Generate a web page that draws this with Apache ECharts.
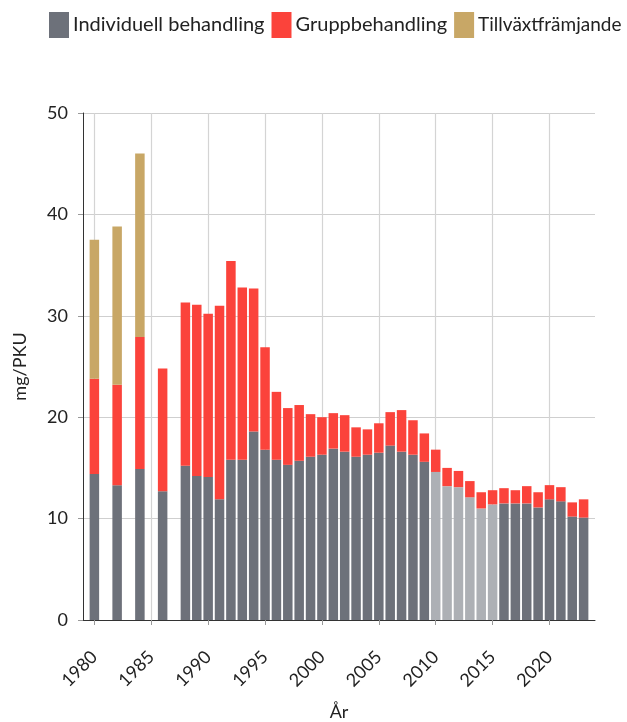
<!DOCTYPE html>
<html>
<head>
<meta charset="utf-8">
<script src="https://cdn.jsdelivr.net/npm/echarts@6/dist/echarts.min.js"></script>
<style>
  html, body { margin: 0; padding: 0; background: #fff; }
  #chart { width: 627px; height: 722px; }
</style>
</head>
<body>
<div id="chart"></div>
<script>
// Förbrukning av tillväxthormon per år (mg/PKU), uppdelad på behandlingstyp

// Årsaxeln (ett steg per år, även år utan mätning)
const axisYears = ['1979', '1980', '1981', '1982', '1983', '1984', '1985', '1986', '1987',
  '1988', '1989', '1990', '1991', '1992', '1993', '1994', '1995', '1996', '1997', '1998',
  '1999', '2000', '2001', '2002', '2003', '2004', '2005', '2006', '2007', '2008', '2009',
  '2010', '2011', '2012', '2013', '2014', '2015', '2016', '2017', '2018', '2019', '2020',
  '2021', '2022', '2023', '2024'];

// År med mätvärden
const years = [1980, 1982, 1984, 1986,
  1988, 1989, 1990, 1991, 1992, 1993, 1994, 1995, 1996, 1997, 1998, 1999,
  2000, 2001, 2002, 2003, 2004, 2005, 2006, 2007, 2008, 2009,
  2010, 2011, 2012, 2013, 2014, 2015, 2016, 2017, 2018, 2019,
  2020, 2021, 2022, 2023];

const individuell = [14.4, 13.3, 14.9, 12.7,
  15.2, 14.2, 14.1, 11.9, 15.8, 15.8, 18.6, 16.8, 15.8, 15.3, 15.7, 16.1,
  16.3, 16.9, 16.6, 16.1, 16.3, 16.5, 17.2, 16.6, 16.3, 15.6,
  14.6, 13.2, 13.1, 12.1, 11.0, 11.4, 11.5, 11.5, 11.5, 11.1,
  11.9, 11.7, 10.2, 10.1];

const grupp = [9.4, 9.9, 13.0, 12.1,
  16.1, 16.9, 16.1, 19.1, 19.6, 17.0, 14.1, 10.1, 6.7, 5.6, 5.5, 4.2,
  3.7, 3.5, 3.6, 2.9, 2.5, 2.9, 3.3, 4.1, 3.4, 2.8,
  2.2, 1.8, 1.6, 1.6, 1.6, 1.4, 1.5, 1.3, 1.7, 1.5,
  1.4, 1.4, 1.4, 1.8];

const tillvaxtYears = [1980, 1982, 1984];
const tillvaxt = [13.7, 15.6, 18.1];

// År som visas med ljusare grå stapel
const ljusaAr = [2010, 2011, 2012, 2013, 2014, 2015];

const seriesNames = ['Individuell behandling', 'Gruppbehandling', 'Tillväxtfrämjande'];
const colors = {
  individuell: '#6d717a',
  individuellLjus: '#adb0b5',
  grupp: '#fb433b',
  tillvaxt: '#c8a766'
};

// Lägg ut värden på årsaxeln; år utan mätning blir tomma
function onAxis(yrs, vals, styleFor) {
  return axisYears.map(label => {
    const i = yrs.indexOf(Number(label));
    if (i < 0) return '-';
    const item = { value: vals[i] };
    const st = styleFor ? styleFor(Number(label)) : null;
    if (st) item.itemStyle = st;
    return item;
  });
}

const dataIndividuell = onAxis(years, individuell,
  y => ljusaAr.includes(y) ? { color: colors.individuellLjus } : null);
const dataGrupp = onAxis(years, grupp);
const dataTillvaxt = onAxis(tillvaxtYears, tillvaxt);

const everyFifth = (idx, val) => Number(val) % 5 === 0;

const FONT = 'Lato, "Noto Sans", sans-serif';

const chart = echarts.init(document.getElementById('chart'), null, { renderer: 'canvas' });

const barCommon = { type: 'bar', stack: 'total', barWidth: 9.5 };

chart.setOption({
  animation: false,
  backgroundColor: '#ffffff',
  textStyle: { fontFamily: FONT },
  legend: {
    data: [
      seriesNames[0],
      seriesNames[1],
      { name: seriesNames[2], textStyle: { fontSize: 19 } }
    ],
    left: 44,
    top: 7,
    width: 600,
    icon: 'rect',
    itemWidth: 20,
    itemHeight: 26,
    itemGap: 7,
    textStyle: { fontSize: 20, color: '#222', fontFamily: FONT, padding: [0, 0, 0, -1] }
  },
  grid: { left: 83, right: 32, top: 113, bottom: 102, containLabel: false, outerBoundsMode: 'none' },
  xAxis: {
    type: 'category',
    data: axisYears,
    boundaryGap: false,
    name: 'År',
    nameLocation: 'middle',
    nameGap: 83,
    nameTextStyle: { fontSize: 18, color: '#222', fontFamily: FONT },
    axisLine: { show: true, lineStyle: { color: '#333', width: 1 } },
    axisTick: { show: true, length: 5, interval: everyFifth, lineStyle: { color: '#999' } },
    axisLabel: {
      interval: everyFifth,
      rotate: 45,
      margin: 34,
      fontSize: 18,
      color: '#222',
      fontFamily: FONT
    },
    splitLine: { show: true, interval: everyFifth, lineStyle: { color: '#d4d4d4', width: 1.2 } }
  },
  yAxis: {
    type: 'value',
    min: 0,
    max: 50,
    interval: 10,
    name: 'mg/PKU',
    nameLocation: 'middle',
    nameGap: 54,
    nameTextStyle: { fontSize: 18, color: '#222', fontFamily: FONT },
    axisLine: { show: true, lineStyle: { color: '#333', width: 1 } },
    axisTick: { show: true, length: 5, lineStyle: { color: '#999' } },
    axisLabel: { margin: 15, fontSize: 18, color: '#222', fontFamily: FONT },
    splitLine: { show: true, lineStyle: { color: '#cfcfcf', width: 1.2 } }
  },
  series: [
    Object.assign({}, barCommon, { name: seriesNames[0], data: dataIndividuell, itemStyle: { color: colors.individuell } }),
    Object.assign({}, barCommon, { name: seriesNames[1], data: dataGrupp, itemStyle: { color: colors.grupp } }),
    Object.assign({}, barCommon, { name: seriesNames[2], data: dataTillvaxt, itemStyle: { color: colors.tillvaxt } })
  ]
});
</script>
</body>
</html>
